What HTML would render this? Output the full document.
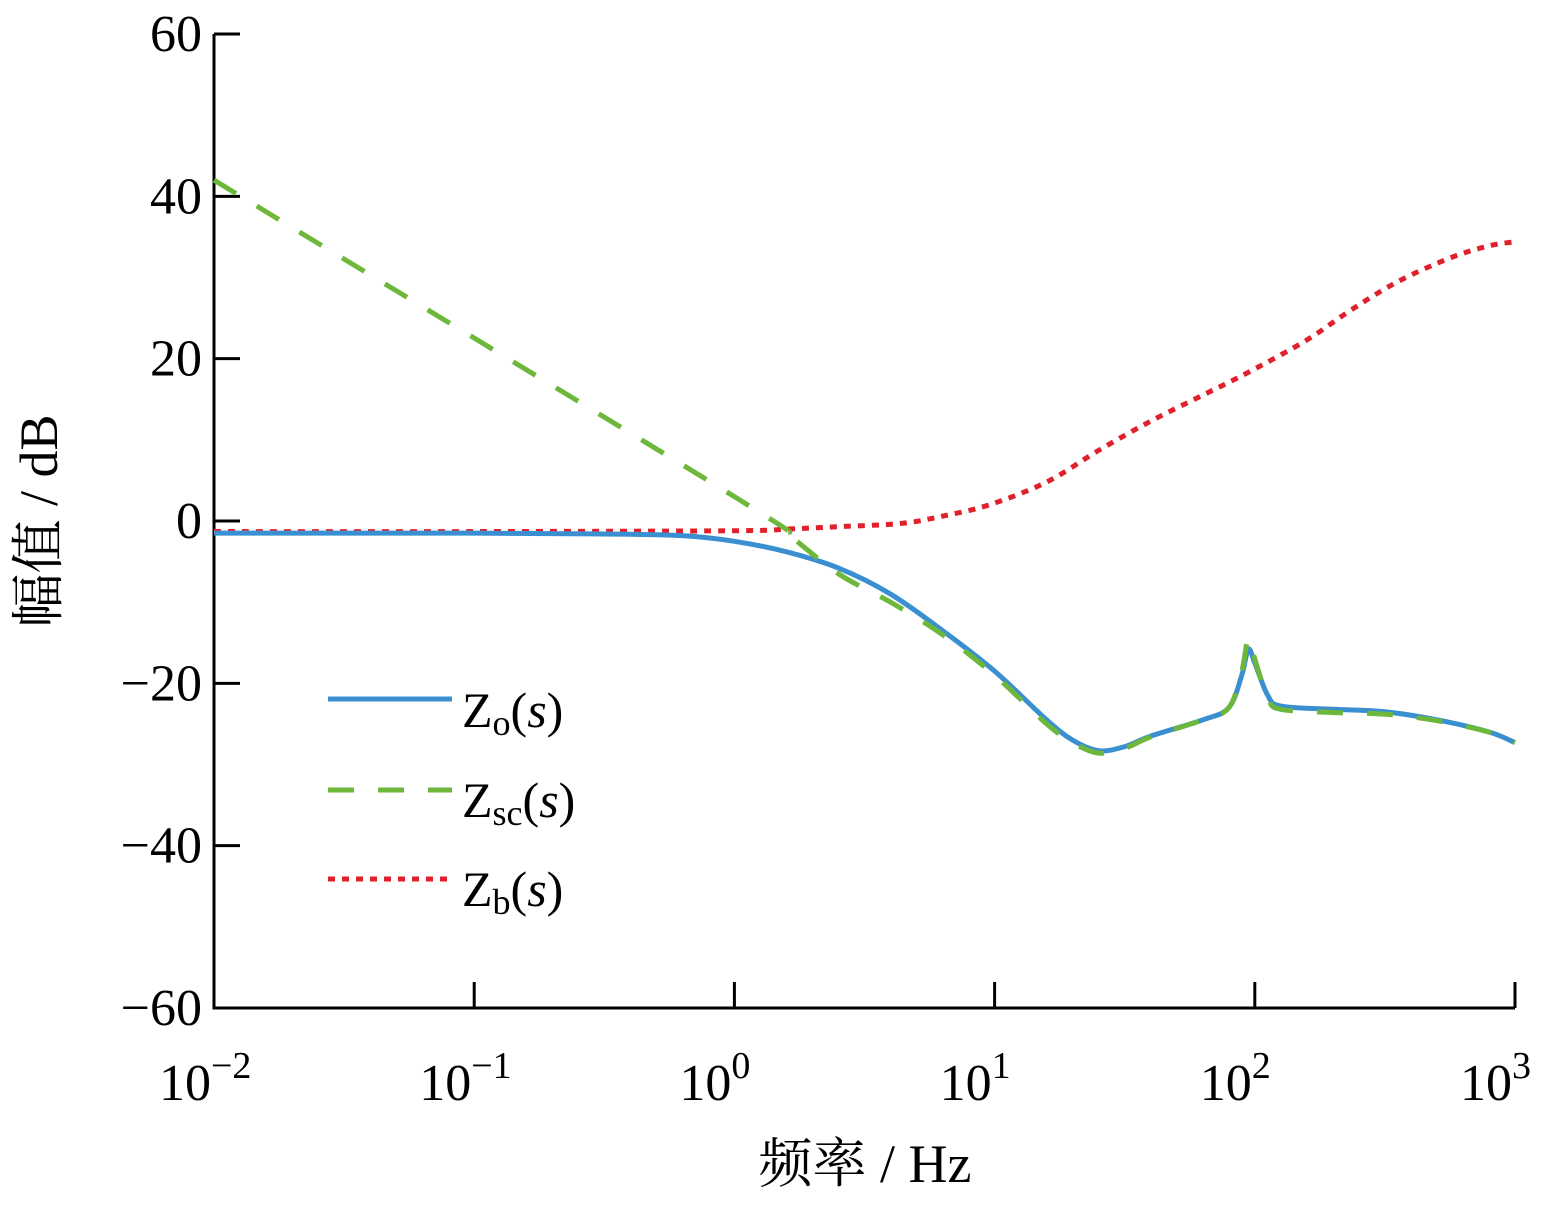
<!DOCTYPE html>
<html><head><meta charset="utf-8"><style>
body{margin:0;background:#fff}
svg text{font-family:"Liberation Serif","Noto Serif CJK SC",serif;fill:#000}
</style></head><body>
<svg id="chart" width="1562" height="1202" xmlns="http://www.w3.org/2000/svg">
<g id="axes"></g>
<g id="series"></g>
<g id="legend">
 <line x1="328" y1="699" x2="452" y2="699" stroke="#3a8fd0" stroke-width="5"/>
 <text x="462" y="727" font-size="50">Z<tspan font-size="36" dy="8">o</tspan><tspan dy="-8">(</tspan><tspan font-style="italic">s</tspan>)</text>
 <line x1="328" y1="790" x2="452" y2="790" stroke="#6db83a" stroke-width="5" stroke-dasharray="26,24"/>
 <text x="462" y="817" font-size="50">Z<tspan font-size="36" dy="8">sc</tspan><tspan dy="-8">(</tspan><tspan font-style="italic">s</tspan>)</text>
 <line x1="328" y1="879" x2="452" y2="879" stroke="#e0202a" stroke-width="5" stroke-dasharray="7,7"/>
 <text x="462" y="906" font-size="50">Z<tspan font-size="36" dy="8">b</tspan><tspan dy="-8">(</tspan><tspan font-style="italic">s</tspan>)</text>
</g>
</svg>
<script>
const yTicks=[60,40,20,0,-20,-40,-60];
const yTickLabels=["60","40","20","0","\u221220","\u221240","\u221260"];
const xTicks=[-2,-1,0,1,2,3];
const xTickExps=["\u22122","\u22121","0","1","2","3"];
const zoLogF=[-2,-1,-0.5,-0.2,0,0.2,0.4,0.6,0.8,1.0,1.2,1.3,1.4,1.5,1.6,1.8,1.9,1.95,1.975,2.0,2.05,2.1,2.3,2.5,2.7,2.9,3.0];
const zoDb=[-1.5,-1.5,-1.6,-1.8,-2.5,-3.8,-5.8,-9,-13.5,-18.5,-24.5,-27,-28.3,-27.8,-26.5,-24.5,-23,-19,-15.8,-17.5,-21.5,-22.8,-23.2,-23.5,-24.5,-26,-27.3];
const zscLogF=[-2,0,0.2,0.4,0.6,0.8,1.0,1.2,1.3,1.4,1.5,1.6,1.8,1.9,1.95,1.975,2.0,2.05,2.1,2.3,2.5,2.7,2.9,3.0];
const zscDb=[42,3,-1.5,-6.5,-10,-14,-19,-25,-27.3,-28.6,-28,-26.6,-24.5,-23,-18.5,-14.5,-17,-21.8,-23.2,-23.6,-23.8,-24.6,-26,-27.3];
const zbLogF=[-2,-1,0,0.2,0.4,0.64,0.8,0.98,1.2,1.4,1.6,1.8,1.98,2.2,2.37,2.55,2.75,2.9,3.0];
const zbDb=[-1.3,-1.3,-1.2,-1.0,-0.7,-0.3,0.6,2,4.8,8.7,12.3,15.5,18.4,22.3,26,29.5,32.4,33.9,34.4];
const X0=214,X1=1515,Y0=34,Y1=1008;
const xs=v=>X0+(v+2)/5*(X1-X0);
const ys=v=>Y0+(60-v)/120*(Y1-Y0);
const NS="http://www.w3.org/2000/svg";
function mk(t,a,p){const e=document.createElementNS(NS,t);for(const k in a)e.setAttribute(k,a[k]);p.appendChild(e);return e;}
const ax=document.getElementById('axes');
let e=mk('path',{d:`M${X0},${Y0} V${Y1} H${X1}`,fill:'none',stroke:'#000','stroke-width':3},ax);


yTicks.forEach((v,i)=>{
 let t=mk('line',{x1:X0,x2:X0+26,y1:ys(v),y2:ys(v),stroke:'#000','stroke-width':3},ax);
 
 
 let l=mk('text',{x:X0-12,y:ys(v)+17,'font-size':52,'text-anchor':'end'},ax);l.textContent=yTickLabels[i];
 
 
});
xTicks.forEach((v,i)=>{
 let t=mk('line',{x1:xs(v),x2:xs(v),y1:Y1,y2:Y1-26,stroke:'#000','stroke-width':3},ax);
 
 
 let l=mk('text',{x:xs(v)-55,y:1100,'font-size':52},ax);
 
 
 l.innerHTML=`10<tspan font-size="38" dy="-22">${xTickExps[i]}</tspan>`;
});
let xt=mk('text',{x:865,y:1182,'font-size':54,'text-anchor':'middle'},ax);xt.textContent="频率 / Hz";


let yt=mk('text',{x:0,y:0,'font-size':54,'text-anchor':'middle',transform:'translate(57,521) rotate(-90)'},ax);yt.textContent="幅值 / dB";


function smooth(xa,ya){const p=xa.map((x,i)=>[xs(x),ys(ya[i])]);let d=`M${p[0][0]},${p[0][1]}`;
 for(let i=0;i<p.length-1;i++){const a=p[i-1]||p[i],b=p[i],c=p[i+1],n=p[i+2]||c;
  d+=` C${b[0]+(c[0]-a[0])/6},${b[1]+(c[1]-a[1])/6} ${c[0]-(n[0]-b[0])/6},${c[1]-(n[1]-b[1])/6} ${c[0]},${c[1]}`;}return d;}
const sg=document.getElementById('series');
let s1=mk('path',{d:smooth(zbLogF,zbDb),fill:'none',stroke:'#e0202a','stroke-width':5,'stroke-dasharray':'7,7'},sg);


let s2=mk('path',{d:smooth(zoLogF,zoDb),fill:'none',stroke:'#3a8fd0','stroke-width':5},sg);


let s3=mk('path',{d:smooth(zscLogF,zscDb),fill:'none',stroke:'#6db83a','stroke-width':5,'stroke-dasharray':'26,24'},sg);


</script>
</body></html>
